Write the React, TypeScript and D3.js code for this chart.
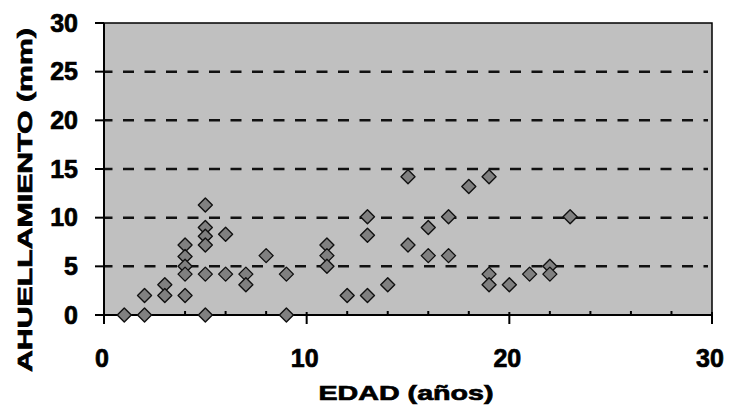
import React from "react";
import * as d3 from "d3";

// edad (años) y ahuellamiento (mm)
const edad = [1, 2, 2, 3, 3, 4, 4, 4, 4, 4, 5, 5, 5, 5, 5, 5, 6, 6, 7, 7, 8, 9, 9, 11, 11, 11, 12, 13, 13, 13, 14, 15, 15, 16, 16, 17, 17, 18, 19, 19, 19, 20, 21, 22, 22, 23];
const ahuellamiento = [0, 0, 2, 3.1, 2, 7.2, 6, 5, 4.2, 2, 11.3, 9, 8.1, 7.2, 4.2, 0, 8.3, 4.2, 4.2, 3.1, 6.1, 4.2, 0, 7.2, 6.1, 5, 2, 10.1, 8.2, 2, 3.1, 14.2, 7.2, 9, 6.1, 10.1, 6.1, 13.2, 14.2, 4.2, 3.1, 3.1, 4.2, 5, 4.2, 10.1];

const xTicks = [0, 10, 20, 30];
const xMinor = [2, 4, 6, 8, 12, 14, 16, 18, 22, 24, 26, 28];
const yTicks = [0, 5, 10, 15, 20, 25, 30];
const gridValues = [5, 10, 15, 20, 25];

const xTitle = "EDAD (años)";
const yTitle = "AHUELLAMIENTO (mm)";

const W = 729;
const H = 406;
const left = 104;
const right = 712;
const top = 23;
const bottom = 315;

const font = "Arial, 'Liberation Sans', sans-serif";

export default function App() {
  const x = d3.scaleLinear().domain([0, 30]).range([left, right]);
  const y = d3.scaleLinear().domain([0, 30]).range([bottom, top]);

  const r = 7;
  const diamond = (cx: number, cy: number) =>
    `M${cx},${cy - r}L${cx + r},${cy}L${cx},${cy + r}L${cx - r},${cy}Z`;

  // heavier text, like the original bitmap font
  const textStyle = {
    fontFamily: font,
    fontWeight: "bold" as const,
    fill: "#000",
    stroke: "#000",
    strokeWidth: 0.7,
  };

  return (
    <svg
      width={W}
      height={H}
      style={{ position: "absolute", left: 0, top: 0, background: "#fff" }}
    >
      {/* plot area */}
      <rect
        x={left}
        y={top}
        width={right - left}
        height={bottom - top}
        fill="#c0c0c0"
        stroke="#000"
        strokeWidth={1.5}
      />

      {/* dashed gridlines */}
      {gridValues.map((v) => (
        <line
          key={"g" + v}
          x1={left}
          x2={right - 4}
          y1={y(v)}
          y2={y(v)}
          stroke="#111"
          strokeWidth={2.5}
          strokeDasharray="11 10.5"
          strokeDashoffset={2.5}
        />
      ))}

      {/* axes */}
      <line x1={left} x2={left} y1={top} y2={bottom} stroke="#000" strokeWidth={2} />
      <line x1={left} x2={right} y1={bottom} y2={bottom} stroke="#000" strokeWidth={2} />

      {yTicks.map((v) => (
        <g key={"yt" + v}>
          <line x1={left - 9} x2={left} y1={y(v)} y2={y(v)} stroke="#000" strokeWidth={2} />
          <text x={78} y={y(v)} dy="0.35em" textAnchor="end" fontSize={25} {...textStyle}>
            {v}
          </text>
        </g>
      ))}

      {xMinor.map((v) => (
        <line key={"xm" + v} x1={x(v)} x2={x(v)} y1={bottom - 4} y2={bottom} stroke="#000" strokeWidth={2} />
      ))}

      {xTicks.map((v) => (
        <g key={"xt" + v}>
          <line x1={x(v)} x2={x(v)} y1={bottom - 3} y2={bottom + 9} stroke="#000" strokeWidth={2} />
          <text x={x(v) - 2} y={367} textAnchor="middle" fontSize={25} {...textStyle}>
            {v}
          </text>
        </g>
      ))}

      {/* points */}
      {edad.map((e, i) => (
        <path
          key={"p" + i}
          d={diamond(x(e), y(ahuellamiento[i]))}
          fill="#808080"
          stroke="#111"
          strokeWidth={1.4}
          strokeLinejoin="round"
        />
      ))}

      {/* titles */}
      <text
        x={406}
        y={400}
        textAnchor="middle"
        fontSize={21}
        textLength={175}
        lengthAdjust="spacingAndGlyphs"
        {...textStyle}
      >
        {xTitle}
      </text>
      <text
        transform="translate(32,200) rotate(-90)"
        textAnchor="middle"
        fontSize={21}
        textLength={344}
        lengthAdjust="spacingAndGlyphs"
        {...textStyle}
      >
        {yTitle}
      </text>
    </svg>
  );
}
